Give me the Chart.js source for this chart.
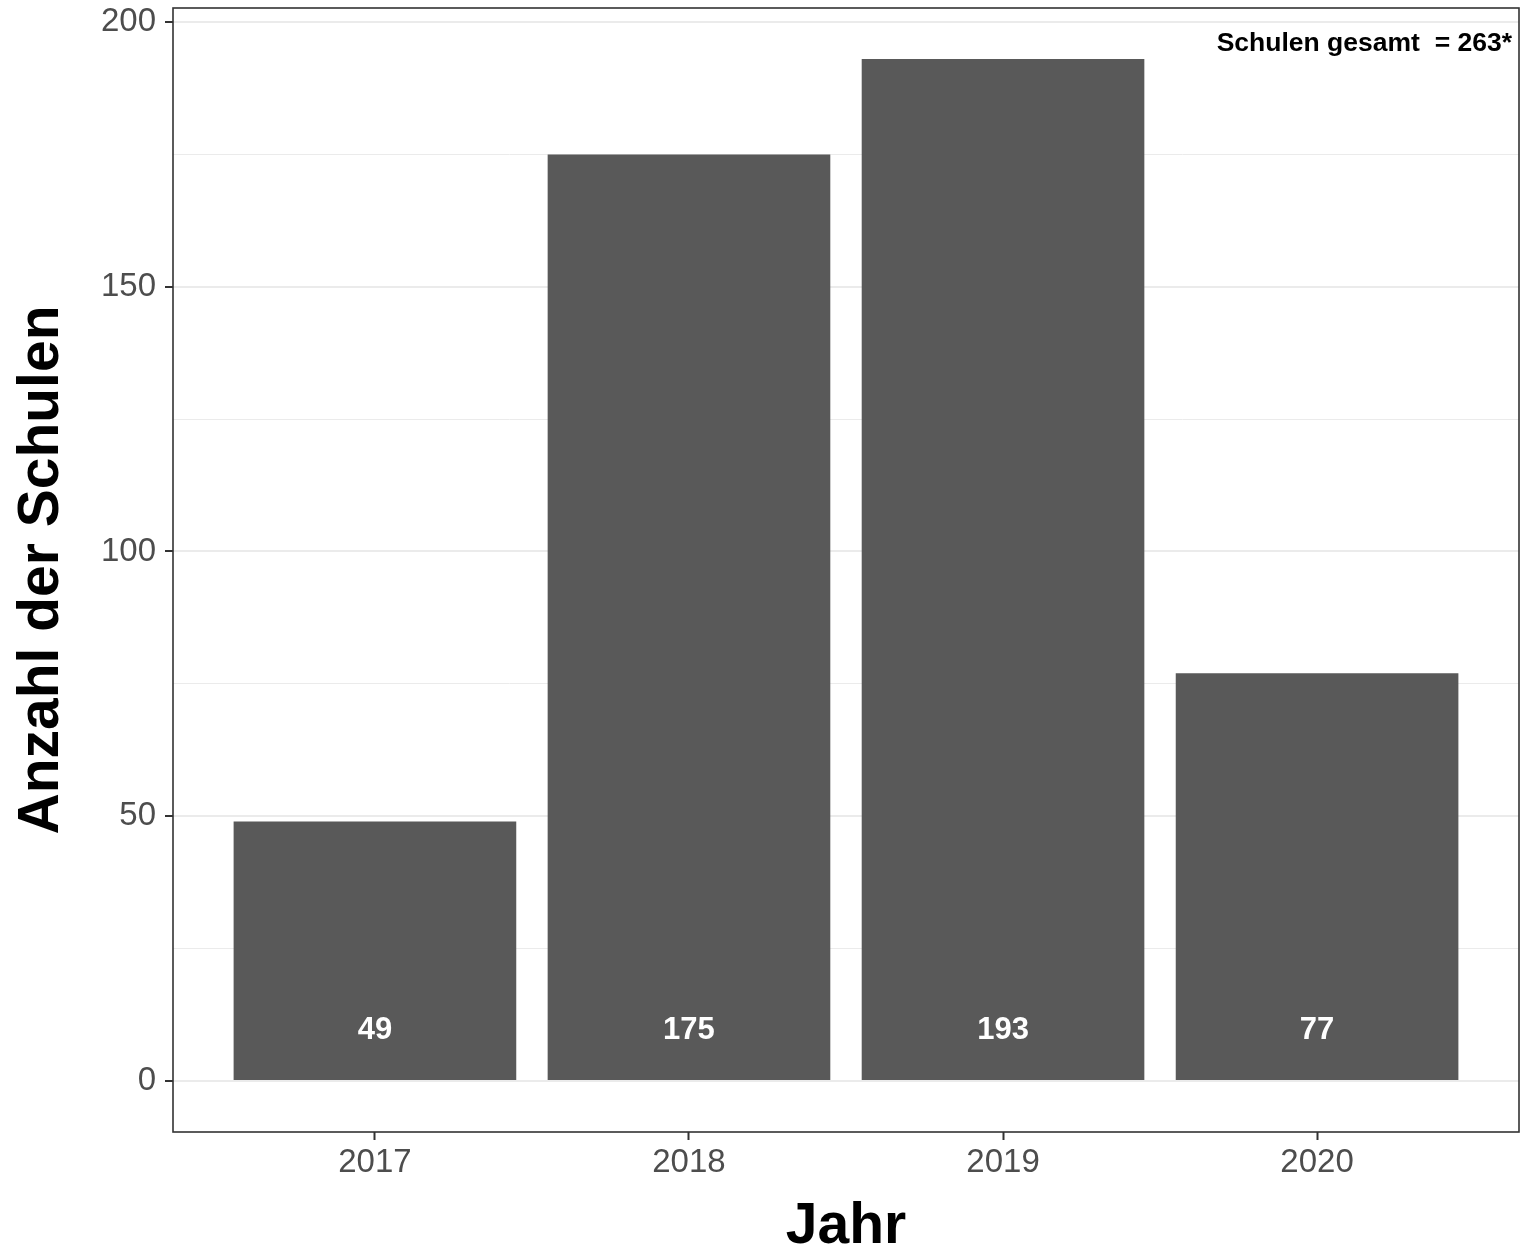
<!DOCTYPE html>
<html>
<head>
<meta charset="utf-8">
<script src="https://cdn.jsdelivr.net/npm/chart.js@4/dist/chart.umd.min.js"></script>
<style>
  html, body { margin: 0; padding: 0; background: #ffffff; }
  #wrap { width: 1524px; height: 1256px; position: relative; }
</style>
</head>
<body>
<div id="wrap"><canvas id="c"></canvas></div>
<script>
const years = ['2017', '2018', '2019', '2020'];
const schools = [49, 175, 193, 77];
const yTicks = [0, 25, 50, 75, 100, 125, 150, 175, 200];
const totalLabel = 'Schulen gesamt  = 263*';
const yTitle = 'Anzahl der Schulen';
const xTitle = 'Jahr';

const FONT = "'Liberation Sans', Arial, sans-serif";

const panelPlugin = {
  id: 'panel',
  afterDatasetsDraw(chart) {
    const { ctx, chartArea, scales } = chart;
    ctx.save();
    ctx.fillStyle = '#ffffff';
    ctx.font = 'bold 31px ' + FONT;
    ctx.textAlign = 'center';
    ctx.textBaseline = 'middle';
    const meta = chart.getDatasetMeta(0);
    meta.data.forEach((bar, i) => {
      ctx.fillText(String(schools[i]), bar.x, scales.y.getPixelForValue(9.5));
    });
    ctx.fillStyle = '#000000';
    ctx.font = 'bold 26.5px ' + FONT;
    ctx.textAlign = 'right';
    ctx.fillText(totalLabel, chartArea.right - 7, scales.y.getPixelForValue(196));
    ctx.strokeStyle = '#333333';
    ctx.lineWidth = 1.6;
    ctx.strokeRect(chartArea.left, chartArea.top, chartArea.right - chartArea.left, chartArea.bottom - chartArea.top);
    ctx.restore();
  }
};

new Chart(document.getElementById('c'), {
  type: 'bar',
  data: {
    datasets: [{
      data: schools.map((v, i) => ({ x: i + 1, y: v })),
      backgroundColor: '#595959',
      borderWidth: 0,
      barPercentage: 0.9,
      categoryPercentage: 1.0
    }]
  },
  options: {
    responsive: true,
    maintainAspectRatio: false,
    animation: false,
    layout: { padding: { top: 8, right: 5, bottom: 0, left: 0 } },
    plugins: { legend: { display: false }, tooltip: { enabled: false } },
    scales: {
      x: {
        type: 'linear',
        offset: false,
        min: 0.357,
        max: 4.643,
        afterBuildTicks: (s) => { s.ticks = years.map((y, i) => ({ value: i + 1 })); },
        afterFit: (s) => { s.height = 124; s.paddingLeft = 0; s.paddingRight = 0; },
        border: { display: false },
        grid: {
          offset: false,
          drawOnChartArea: false,
          drawTicks: true,
          tickLength: 8,
          tickWidth: 2,
          tickColor: '#333333'
        },
        ticks: {
          padding: 3,
          color: '#4d4d4d',
          font: { family: FONT, size: 33 },
          maxRotation: 0,
          autoSkip: false,
          callback: (v) => years[Math.round(v) - 1]
        },
        title: {
          display: true,
          text: xTitle,
          color: '#000000',
          font: { family: FONT, size: 57, weight: 'bold', lineHeight: 1.0 },
          padding: { top: 0, bottom: 0 }
        }
      },
      y: {
        min: -9.65,
        max: 202.65,
        afterBuildTicks: (s) => { s.ticks = yTicks.map(v => ({ value: v })); },
        afterFit: (s) => { s.width = 173; s.paddingTop = 0; s.paddingBottom = 0; },
        border: { display: false },
        grid: {
          drawTicks: true,
          tickLength: 8,
          color: '#ebebeb',
          lineWidth: (c) => (c.tick && c.tick.value % 50 === 0) ? 2 : 1,
          tickWidth: 2,
          tickColor: (c) => (c.tick && c.tick.value % 50 === 0) ? '#333333' : 'rgba(0,0,0,0)'
        },
        ticks: {
          padding: 9,
          color: '#4d4d4d',
          font: { family: FONT, size: 33 },
          autoSkip: false,
          callback: (v) => (v % 50 === 0 ? String(v) : '')
        },
        title: {
          display: true,
          text: yTitle,
          color: '#000000',
          font: { family: FONT, size: 57, weight: 'bold', lineHeight: 1.0 },
          padding: { top: 14, bottom: 0 }
        }
      }
    }
  },
  plugins: [panelPlugin]
});
</script>
</body>
</html>
